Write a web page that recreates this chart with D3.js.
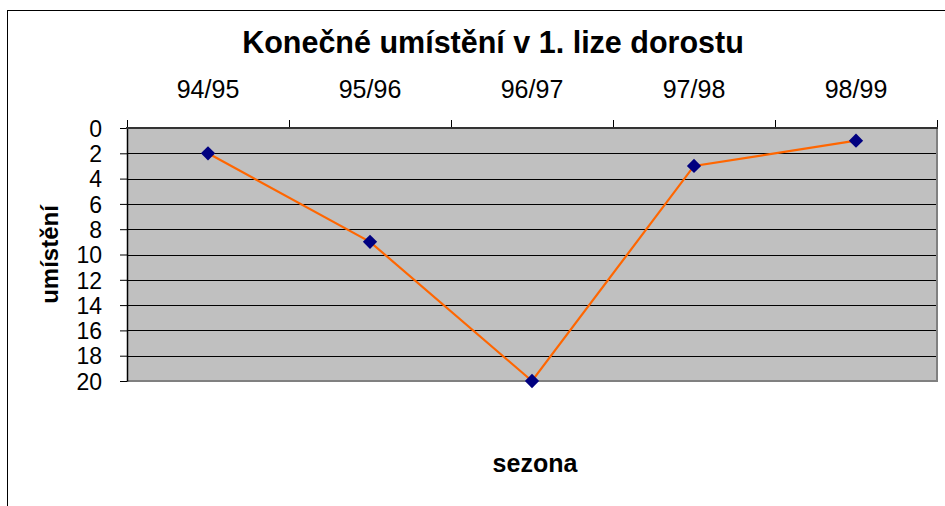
<!DOCTYPE html>
<html><head><meta charset="utf-8">
<script src="https://cdn.jsdelivr.net/npm/d3@7/dist/d3.min.js"></script>
<style>html,body{margin:0;padding:0;background:#fff;}svg{display:block;font-family:Arial,"Liberation Sans",sans-serif;}</style>
</head><body><svg id="c" width="945" height="506"></svg>
<script>
const categories = ["94/95","95/96","96/97","97/98","98/99"];
const placement = [2, 9, 20, 3, 1];
const yTicks = [0,2,4,6,8,10,12,14,16,18,20];
const titleText = "Konečné umístění v 1. lize dorostu";
const xTitle = "sezona";
const yTitle = "umístění";

const svg = d3.select("#c");
const L = 127, R = 937, T = 128, B = 381;

svg.append("rect").attr("x",7.5).attr("y",10.5).attr("width",1000).attr("height",1000)
  .attr("fill","#fff").attr("stroke","#000").attr("stroke-width",1);

const x = d3.scaleBand().domain(categories).range([L,R]).padding(0);
const y = d3.scaleLinear().domain([0,20]).range([T,B]);

svg.append("rect").attr("x",L).attr("y",T).attr("width",R-L).attr("height",B-T).attr("fill","#C0C0C0");

// gridlines
svg.append("g").selectAll("line").data(yTicks.filter(d=>d>0 && d<20)).join("line")
  .attr("x1",L).attr("x2",R).attr("y1",d=>Math.round(y(d))+0.5).attr("y2",d=>Math.round(y(d))+0.5)
  .attr("stroke","#000").attr("stroke-width",1);

// right and bottom gray border
svg.append("line").attr("x1",R).attr("x2",R).attr("y1",T).attr("y2",B+1).attr("stroke","#808080").attr("stroke-width",2);
svg.append("line").attr("x1",L).attr("x2",R+1).attr("y1",B).attr("y2",B).attr("stroke","#808080").attr("stroke-width",2);

// y axis
const yAxis = d3.axisLeft(y).tickValues(yTicks).tickSize(7).tickPadding(18).tickSizeOuter(0);
const gy = svg.append("g").attr("transform",`translate(${L},0)`).call(yAxis);
gy.select(".domain").attr("stroke","#000").attr("stroke-width",1.5);
gy.selectAll(".tick line").attr("stroke","#000");
gy.selectAll(".tick text").attr("font-size",23).attr("fill","#000").attr("font-family","Arial, 'Liberation Sans', sans-serif").attr("dy","0.36em");

// x axis on top
const xAxis = d3.axisTop(x).tickSize(0).tickPadding(30);
const gx = svg.append("g").attr("transform",`translate(0,${T})`).call(xAxis);
gx.select(".domain").remove();
gx.selectAll(".tick text").attr("font-size",25).attr("fill","#000").attr("font-family","Arial, 'Liberation Sans', sans-serif");
// boundary ticks between categories
const bounds = categories.map(c=>x(c)).concat([R]);
svg.append("g").selectAll("line").data(bounds).join("line")
  .attr("x1",d=>d+0.5).attr("x2",d=>d+0.5).attr("y1",T-8).attr("y2",T).attr("stroke","#000").attr("stroke-width",1);
svg.append("line").attr("x1",L-1).attr("x2",R+1).attr("y1",T).attr("y2",T).attr("stroke","#333").attr("stroke-width",2);

// line
const cx = d => x(d) + x.bandwidth()/2;
svg.append("path").datum(placement.map((v,i)=>[categories[i],v]))
  .attr("fill","none").attr("stroke","#FF6600").attr("stroke-width",2.2)
  .attr("d", d3.line().x(d=>cx(d[0])).y(d=>y(d[1])));

svg.append("g").selectAll("path").data(placement.map((v,i)=>[categories[i],v])).join("path")
  .attr("d", d3.symbol(d3.symbolDiamond2, 130)())
  .attr("transform", d=>`translate(${cx(d[0])},${y(d[1])})`)
  .attr("fill","#000080");

// titles
svg.append("text").attr("x",493).attr("y",53).attr("text-anchor","middle")
  .attr("font-size",30.5).attr("font-weight","bold").text(titleText);
svg.append("text").attr("x",535).attr("y",472).attr("text-anchor","middle")
  .attr("font-size",25).attr("font-weight","bold").text(xTitle);
svg.append("text").attr("transform",`translate(58,${(T+B)/2}) rotate(-90)`).attr("text-anchor","middle")
  .attr("font-size",24).attr("font-weight","bold").text(yTitle);
</script></body></html>
